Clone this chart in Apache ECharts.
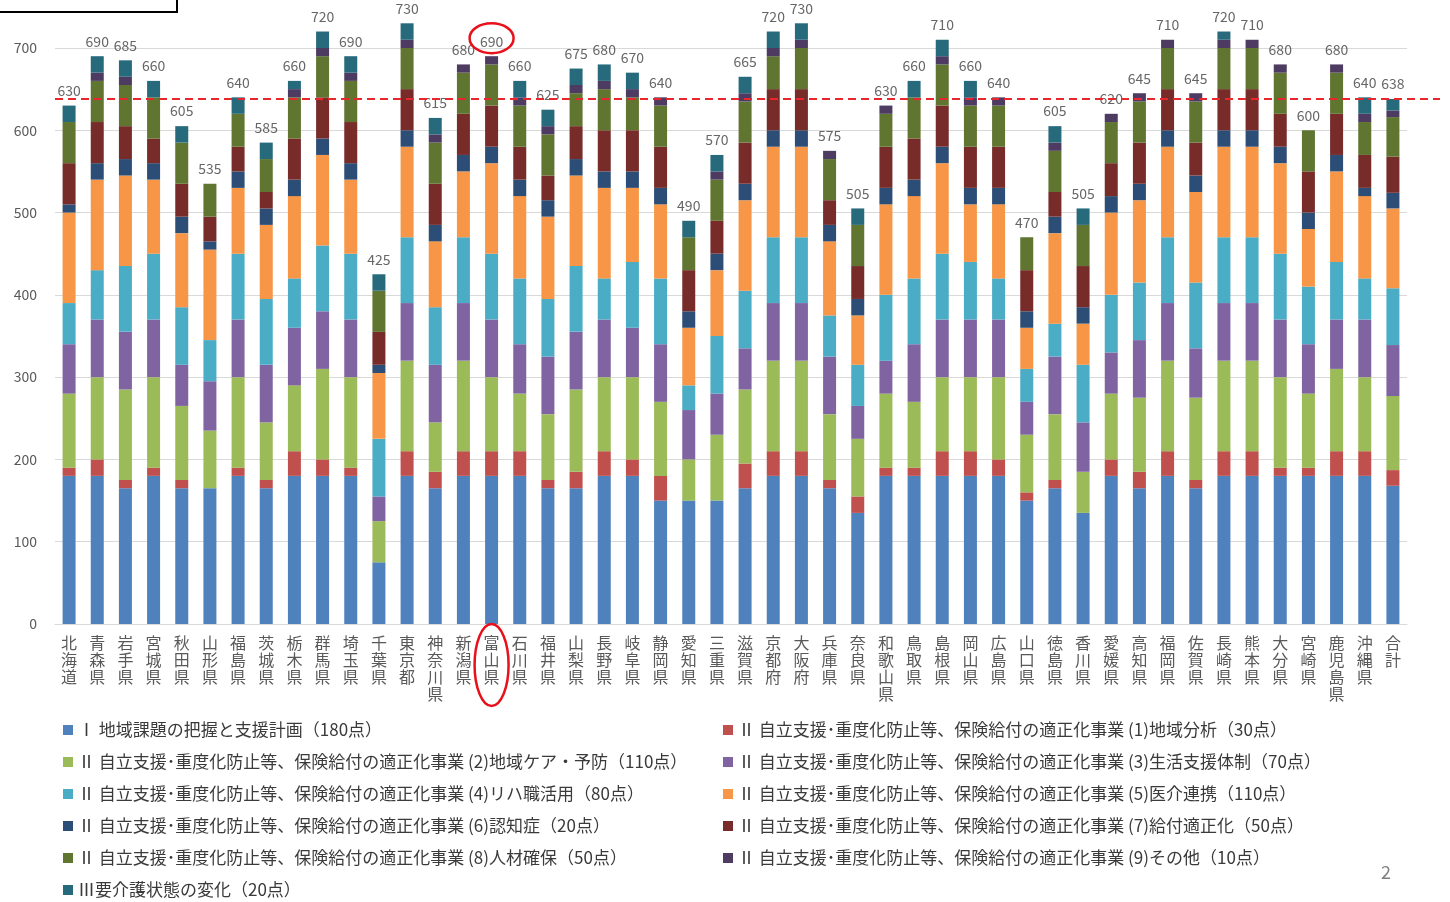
<!DOCTYPE html>
<html><head><meta charset="utf-8">
<script src="https://cdn.jsdelivr.net/npm/echarts@6.0.0/dist/echarts.min.js"></script>
<style>html,body{margin:0;padding:0;background:#fff;}#c{width:1450px;height:902px;}</style>
</head><body><div id="c"></div>
<script>
const categories = ['北海道','青森県','岩手県','宮城県','秋田県','山形県','福島県','茨城県','栃木県','群馬県','埼玉県','千葉県','東京都','神奈川県','新潟県','富山県','石川県','福井県','山梨県','長野県','岐阜県','静岡県','愛知県','三重県','滋賀県','京都府','大阪府','兵庫県','奈良県','和歌山県','鳥取県','島根県','岡山県','広島県','山口県','徳島県','香川県','愛媛県','高知県','福岡県','佐賀県','長崎県','熊本県','大分県','宮崎県','鹿児島県','沖縄県','合計'];
const seriesNames = [
 'Ⅰ 地域課題の把握と支援計画（180点）',
 'Ⅱ 自立支援･重度化防止等、保険給付の適正化事業 (1)地域分析（30点）',
 'Ⅱ 自立支援･重度化防止等、保険給付の適正化事業 (2)地域ケア・予防（110点）',
 'Ⅱ 自立支援･重度化防止等、保険給付の適正化事業 (3)生活支援体制（70点）',
 'Ⅱ 自立支援･重度化防止等、保険給付の適正化事業 (4)リハ職活用（80点）',
 'Ⅱ 自立支援･重度化防止等、保険給付の適正化事業 (5)医介連携（110点）',
 'Ⅱ 自立支援･重度化防止等、保険給付の適正化事業 (6)認知症（20点）',
 'Ⅱ 自立支援･重度化防止等、保険給付の適正化事業 (7)給付適正化（50点）',
 'Ⅱ 自立支援･重度化防止等、保険給付の適正化事業 (8)人材確保（50点）',
 'Ⅱ 自立支援･重度化防止等、保険給付の適正化事業 (9)その他（10点）',
 'Ⅲ要介護状態の変化（20点）'
];
const s0 = [180,180,165,180,165,165,180,165,180,180,180,75,180,165,180,180,180,165,165,180,180,150,150,150,165,180,180,165,135,180,180,180,180,180,150,165,135,180,165,180,165,180,180,180,180,180,180,168];
const s1 = [10,20,10,10,10,0,10,10,30,20,10,0,30,20,30,30,30,10,20,30,20,30,0,0,30,30,30,10,20,10,10,30,30,20,10,10,0,20,20,30,10,30,30,10,10,30,30,19];
const s2 = [90,100,110,110,90,70,110,70,80,110,110,50,110,60,110,90,70,80,100,90,100,90,50,80,90,110,110,80,70,90,80,90,90,100,70,80,50,80,90,110,100,110,110,110,90,100,90,90];
const s3 = [60,70,70,70,50,60,70,70,70,70,70,30,70,70,70,70,60,70,70,70,60,70,60,50,50,70,70,70,40,40,70,70,70,70,40,70,60,50,70,70,60,70,70,70,60,60,70,62];
const s4 = [50,60,80,80,70,50,80,80,60,80,80,70,80,70,80,80,80,70,80,50,80,80,30,70,70,80,80,50,50,80,80,80,70,50,40,40,70,70,70,80,80,80,80,80,70,70,50,69];
const s5 = [110,110,110,90,90,110,80,90,100,110,90,80,110,80,80,110,100,100,110,110,90,90,70,80,110,110,110,90,60,110,100,110,70,90,50,110,50,100,100,110,110,110,110,110,70,110,100,97];
const s6 = [10,20,20,20,20,10,20,20,20,20,20,10,20,20,20,20,20,20,20,20,20,20,20,20,20,20,20,20,20,20,20,20,20,20,20,20,20,20,20,20,20,20,20,20,20,20,10,19];
const s7 = [50,50,40,30,40,30,30,20,50,50,50,40,50,50,50,50,40,30,40,50,50,50,50,40,50,50,50,30,40,50,50,50,50,50,50,30,50,40,50,50,40,50,50,40,50,50,40,44];
const s8 = [50,50,50,50,50,40,40,40,50,50,50,50,50,50,50,50,50,50,40,50,40,50,40,50,50,40,50,50,50,40,50,50,50,50,40,50,50,50,50,50,50,50,50,50,50,50,40,48];
const s9 = [0,10,10,0,0,0,0,0,10,10,10,0,10,10,10,10,10,10,10,10,10,10,0,10,10,10,10,10,0,10,0,10,10,10,0,10,0,10,10,10,10,10,10,10,0,10,10,8];
const s10 = [20,20,20,20,20,0,20,20,10,20,20,20,20,20,0,0,20,20,20,20,20,0,20,20,20,20,20,0,20,0,20,20,20,0,0,20,20,0,0,0,0,10,0,0,0,0,20,14];
const totals = [630,690,685,660,605,535,640,585,660,720,690,425,730,615,680,690,660,625,675,680,670,640,490,570,665,720,730,575,505,630,660,710,660,640,470,605,505,620,645,710,645,720,710,680,600,680,640,638];
const averageLine = 638;
const highlightCategory = '富山県';
const yTicks = {min:0, max:758.3, interval:100};

const colors = ['#4f81bd','#c0504d','#9bbb59','#8064a2','#4bacc6','#f79646','#2c4d75','#772c2a','#5f7530','#4d3b62','#276a7c'];
const stacks = [s0,s1,s2,s3,s4,s5,s6,s7,s8,s9,s10];
const FONT = "'Noto Sans CJK JP','Noto Sans',sans-serif";

const chart = echarts.init(document.getElementById('c'), null, {renderer:'canvas'});
const series = stacks.map((d,i)=>({
  name: seriesNames[i], type:'bar', stack:'total', data:d, barWidth:13,
  itemStyle:{color:colors[i]}, emphasis:{disabled:true}
}));
series.push({
  name:'total', type:'scatter', data: totals, symbolSize:0, silent:true,
  label:{show:true, position:'top', distance:8, color:'#404040', fontSize:14, fontFamily:FONT}
});
const legendText = {color:'#3a3a3a', fontSize:17, lineHeight:18, fontFamily:FONT};
chart.setOption({
  animation:false,
  textStyle:{fontFamily:FONT},
  grid:{left:55, right:43, top:0, bottom:278},
  xAxis:{type:'category', data:categories,
    axisLine:{lineStyle:{color:'#d9d9d9'}}, axisTick:{show:false},
    axisLabel:{interval:0, margin:10, color:'#595959', fontSize:16, lineHeight:17, fontFamily:FONT,
      formatter:v=>v.split('').join('\n')}},
  yAxis:{type:'value', min:yTicks.min, max:yTicks.max, interval:yTicks.interval,
    axisLine:{show:false}, axisTick:{show:false},
    axisLabel:{color:'#595959', fontSize:14, margin:18, fontFamily:FONT, showMaxLabel:false},
    splitLine:{lineStyle:{color:'#d9d9d9'}, showMaxLine:false}},
  legend:[
    {data:[seriesNames[0],seriesNames[2],seriesNames[4],seriesNames[6],seriesNames[8],seriesNames[10]],
     orient:'vertical', left:63, top:721, padding:0, itemWidth:10, itemHeight:10, itemGap:14, icon:'rect',
     textStyle:legendText, selectedMode:false},
    {data:[seriesNames[1],seriesNames[3],seriesNames[5],seriesNames[7],seriesNames[9]],
     orient:'vertical', left:723, top:721, padding:0, itemWidth:10, itemHeight:10, itemGap:14, icon:'rect',
     textStyle:legendText, selectedMode:false}
  ],
  series: series
});

// annotations positioned through the chart's own scales
const hi = categories.indexOf(highlightCategory);
const pTop = chart.convertToPixel({xAxisIndex:0,yAxisIndex:0},[hi, totals[hi]]);
const pZero = chart.convertToPixel({xAxisIndex:0,yAxisIndex:0},[hi, 0]);
const yAvg = chart.convertToPixel({yAxisIndex:0}, averageLine);
chart.setOption({graphic:[
  {type:'line', shape:{x1:55, y1:yAvg, x2:1440, y2:yAvg}, style:{stroke:'#e8262c', lineWidth:2, lineDash:[8,5]}, silent:true, z:50},
  {type:'ellipse', shape:{cx:pTop[0], cy:pTop[1]-18, rx:22, ry:15}, style:{fill:null, stroke:'#e8101a', lineWidth:2.5}, silent:true, z:60},
  {type:'ellipse', shape:{cx:pZero[0], cy:pZero[1]+41, rx:17, ry:41}, style:{fill:null, stroke:'#e8101a', lineWidth:2.5}, silent:true, z:60},
  {type:'rect', shape:{x:-4, y:-22, width:181, height:34}, style:{fill:null, stroke:'#000', lineWidth:2}, silent:true},
  {type:'text', x:1386, y:872, style:{text:'2', fill:'#7f7f7f', fontSize:18, fontFamily:FONT, align:'center', verticalAlign:'middle'}, silent:true}
]});
</script></body></html>
